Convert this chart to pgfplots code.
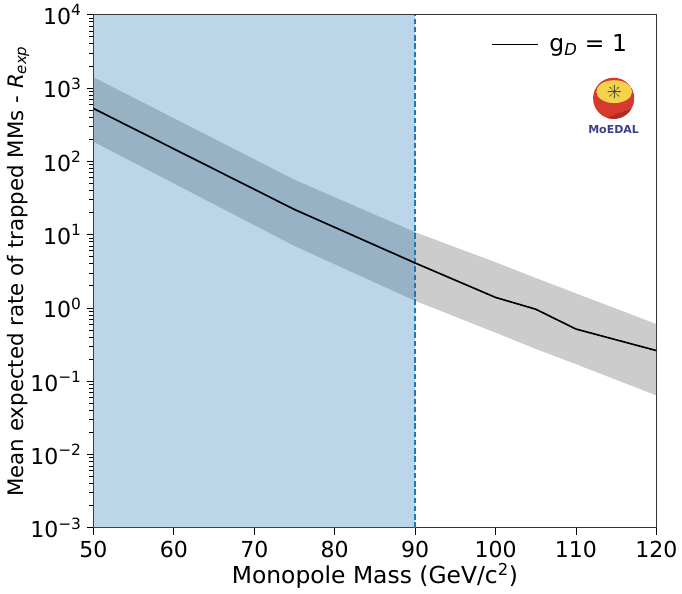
\documentclass[border=0pt]{standalone}
\usepackage{fontspec}
\setmainfont{DejaVu Sans}
\usepackage{pgfplots}
\usepackage{pgfplotstable}
\pgfplotsset{compat=1.18}
\usetikzlibrary{arrows.meta}
\definecolor{mplblue}{HTML}{1F77B4}
\definecolor{logored}{HTML}{D63A2F}
\definecolor{logodark}{HTML}{B02A22}
\definecolor{logoyellow}{HTML}{F4D34A}
\definecolor{logotext}{HTML}{3B3F8C}

% central line
\pgfplotstableread{
x    y
50   525
75   22
90   4.1
100  1.39
105  0.96
110  0.515
120  0.262
}\ratemid

% band outline: upper edge left to right, then lower edge right to left
\pgfplotstableread{
x    y
50   1400
75   56
90   10.8
100  4.2
105  2.56
110  1.58
120  0.603
120  0.064
110  0.171
105  0.276
100  0.46
90   1.25
75   7
50   185
}\rateband

\begin{document}
\begin{tikzpicture}
\begin{axis}[
    at={(0,0)}, anchor=south west,
    scale only axis, width=5.66in, height=5.16in,
    ymode=log,
    xmin=50, xmax=120, ymin=1e-3, ymax=1e4,
    xtick={50,60,...,120},
    ytick={1e-3,1e-2,1e-1,1,10,100,1000,10000},
    yticklabels={10\textsuperscript{−3},10\textsuperscript{−2},10\textsuperscript{−1},10\textsuperscript{0},10\textsuperscript{1},10\textsuperscript{2},10\textsuperscript{3},10\textsuperscript{4}},
    minor ytick={2e-3,3e-3,4e-3,5e-3,6e-3,7e-3,8e-3,9e-3,
                 2e-2,3e-2,4e-2,5e-2,6e-2,7e-2,8e-2,9e-2,
                 0.2,0.3,0.4,0.5,0.6,0.7,0.8,0.9,
                 2,3,4,5,6,7,8,9,
                 20,30,40,50,60,70,80,90,
                 200,300,400,500,600,700,800,900,
                 2000,3000,4000,5000,6000,7000,8000,9000},
    tick align=outside, tick pos=left,
    major tick length=5pt, minor tick length=3pt,
    tick style={black, line width=0.6pt},
    axis line style={line width=0.7pt, black!80},
    /pgf/number format/assume math mode=true,
    tick label style={font=\fontsize{16}{18}\selectfont},
    xticklabel style={yshift=-1pt},
    xlabel={Monopole Mass (GeV/c\textsuperscript{2})},
    ylabel={Mean expected rate of trapped MMs - \textit{R}\textsubscript{\textit{exp}}},
    xlabel style={font=\fontsize{17}{19}\selectfont, yshift=3pt},
    ylabel style={font=\fontsize{15.5}{18}\selectfont, yshift=-6pt},
    legend style={draw=none, fill=none, at={(0.975,0.972)}, anchor=north east,
        font=\fontsize{17}{19}\selectfont, legend cell align=left},
    legend image code/.code={\draw[line width=1.2pt] (0in,0in) -- (0.46in,0in);},
    every axis legend/.append style={nodes={inner xsep=8pt}},
]
    % grey uncertainty band
    \addplot[forget plot, draw=none, fill=gray, fill opacity=0.4] table {\rateband};
    % excluded region
    \addplot[forget plot, draw=none, fill=mplblue, fill opacity=0.3]
        coordinates {(50,1e-3) (90,1e-3) (90,1e4) (50,1e4) (50,1e-3)};
    \addplot[forget plot, mplblue, line width=1pt, dash pattern=on 4pt off 2pt]
        coordinates {(90,1e-3) (90,1e4)};
    % central value
    \addplot[black, line width=1.2pt] table {\ratemid};
    \addlegendentry{g\textsubscript{\textit{D}} = 1}
\end{axis}
% MoEDAL logo (axis box is 5.66in x 5.16in from the origin)
\fill[logored] (5.23in,4.319in) circle[radius=0.207in];
\fill[logodark] (5.23in,4.319in) ++(-30:0.207in) arc[start angle=-30, end angle=-110, radius=0.207in] -- cycle;
\fill[logoyellow] (5.236in,4.386in) ellipse[x radius=0.18in, y radius=0.115in];
\foreach \a in {0,45,...,315}
    \draw[black!70, line width=0.3pt, -{Stealth[length=1.5pt]}] (5.236in,4.386in) -- ++(\a:0.07in);
\node[text=logotext, font=\fontsize{8}{9}\bfseries\selectfont, inner sep=0pt]
    at (5.23in,4.009in) {MoEDAL};
% page frame
\path (-0.94in,-0.62in) rectangle (5.88in,5.30in);
\end{tikzpicture}
\end{document}
